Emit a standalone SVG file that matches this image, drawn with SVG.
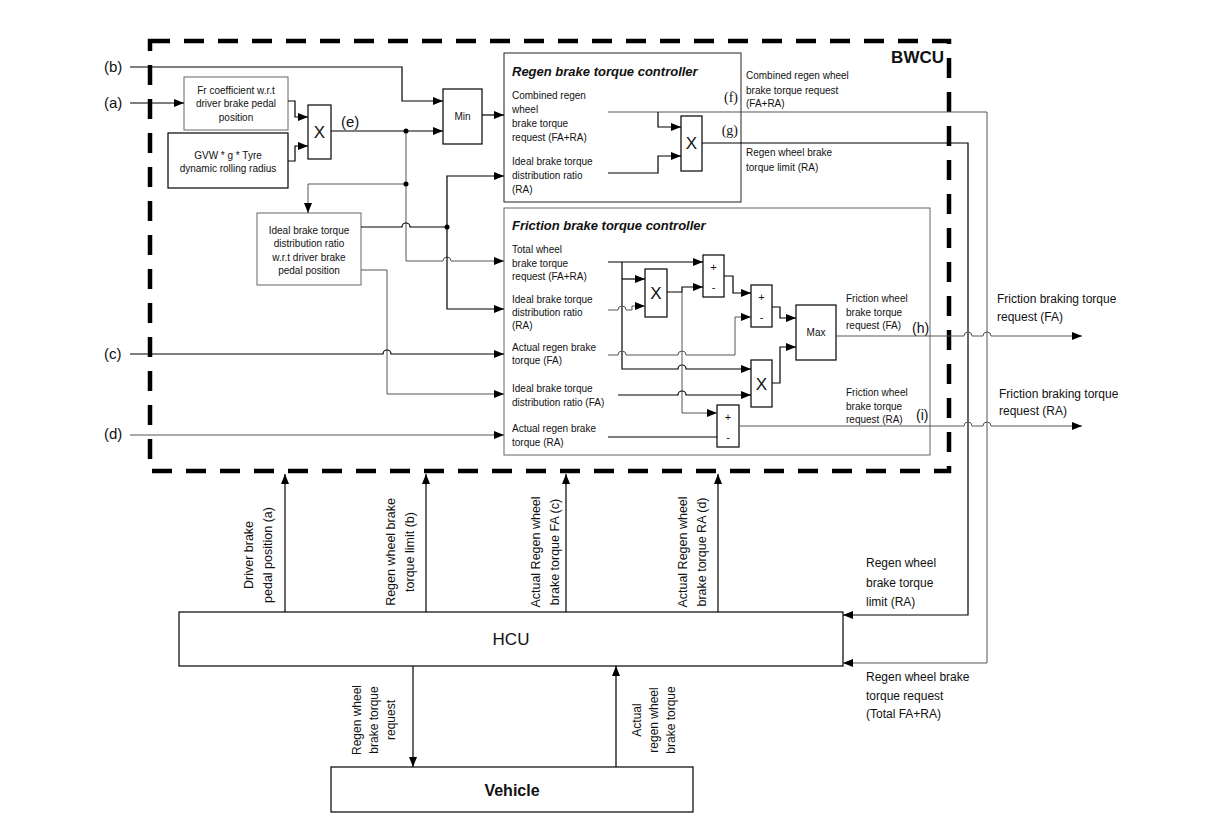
<svg xmlns="http://www.w3.org/2000/svg" width="1221" height="826" viewBox="0 0 1221 826">
<defs>
<marker id="ar" markerUnits="userSpaceOnUse" markerWidth="10" markerHeight="8" refX="10" refY="4" orient="auto">
<path d="M0,0 L10,4 L0,8 z" fill="#000"/>
</marker>
<style>
text{font-family:"Liberation Sans",Arial,sans-serif;fill:#111}
.s{font-size:10px}
.m{font-size:12px}
.v{font-size:12.5px}
.lbl{font-size:15px}
.c{text-anchor:middle}
.bx{fill:#fff;stroke:#000;stroke-width:1.2}
.gb{fill:#fff;stroke:#666;stroke-width:1}
.ti{font-size:13px;font-weight:bold;font-style:italic}
.op{font-size:17px;text-anchor:middle}
.pm{font-size:11px;text-anchor:middle}
.k{fill:none;stroke:#000;stroke-width:1.2}
.g{fill:none;stroke:#555;stroke-width:1}
.a{marker-end:url(#ar)}
</style>
</defs>
<rect width="1221" height="826" fill="#fff"/>

<g id="bwcu">
<rect x="150" y="41" width="799" height="430" fill="none" stroke="#000" stroke-width="4.5" stroke-dasharray="20 14"/>
<text x="944" y="63" style="font-size:17px;font-weight:bold;text-anchor:end">BWCU</text>
</g>

<g id="inputs">
<text class="lbl" x="104" y="72">(b)</text>
<text class="lbl" x="104" y="108">(a)</text>
<text class="lbl" x="104" y="359">(c)</text>
<text class="lbl" x="104" y="439">(d)</text>
<text class="lbl" x="341" y="127">(e)</text>
</g>

<g id="fr-coeff">
<rect class="gb" x="184" y="77" width="104" height="53"/>
<text class="s c" x="236" y="94">Fr coefficient w.r.t</text>
<text class="s c" x="236" y="107">driver brake pedal</text>
<text class="s c" x="236" y="121">position</text>
</g>
<g id="gvw">
<rect class="bx" x="168" y="133" width="120" height="55"/>
<text class="s c" x="228" y="159">GVW * g * Tyre</text>
<text class="s c" x="228" y="172">dynamic rolling radius</text>
</g>
<g id="mul1">
<rect class="bx" x="308" y="105" width="23" height="54"/>
<text class="op" x="319.5" y="138">X</text>
</g>
<g id="min">
<rect class="bx" x="443" y="89" width="39" height="55"/>
<text class="s c" x="462.5" y="120">Min</text>
</g>
<g id="ideal-ratio">
<rect class="gb" x="257" y="213" width="104" height="72"/>
<text class="s c" x="309" y="234">Ideal brake torque</text>
<text class="s c" x="309" y="247">distribution ratio</text>
<text class="s c" x="309" y="261">w.r.t driver brake</text>
<text class="s c" x="309" y="274">pedal position</text>
</g>

<g id="regen-controller">
<rect x="504" y="53" width="237" height="149" fill="#fff" stroke="#222" stroke-width="1"/>
<text class="ti" x="512" y="76">Regen brake torque controller</text>
<text class="s" x="512" y="99">Combined regen</text>
<text class="s" x="512" y="113">wheel</text>
<text class="s" x="512" y="127">brake torque</text>
<text class="s" x="512" y="141">request (FA+RA)</text>
<text class="s" x="512" y="165">Ideal brake torque</text>
<text class="s" x="512" y="179">distribution ratio</text>
<text class="s" x="512" y="193">(RA)</text>
<text x="738" y="102" style="font-size:14px;text-anchor:end;font-family:'Liberation Serif',serif">(f)</text>
<text x="738" y="135" style="font-size:14px;text-anchor:end;font-family:'Liberation Serif',serif">(g)</text>
</g>
<g id="mul2">
<rect class="bx" x="681" y="116" width="21" height="55"/>
<text class="op" x="691.5" y="149">X</text>
</g>
<g id="regen-out-labels">
<text class="s" x="746" y="79">Combined regen wheel</text>
<text class="s" x="746" y="94">brake torque request</text>
<text class="s" x="746" y="107">(FA+RA)</text>
<text class="s" x="746" y="156">Regen wheel brake</text>
<text class="s" x="746" y="171">torque limit (RA)</text>
</g>

<g id="friction-controller">
<rect class="gb" x="504" y="208" width="426" height="247"/>
<text class="ti" x="512" y="230">Friction brake torque controller</text>
<text class="s" x="512" y="253">Total wheel</text>
<text class="s" x="512" y="267">brake torque</text>
<text class="s" x="512" y="280">request (FA+RA)</text>
<text class="s" x="512" y="303">Ideal brake torque</text>
<text class="s" x="512" y="316">distribution ratio</text>
<text class="s" x="512" y="329">(RA)</text>
<text class="s" x="512" y="351">Actual regen brake</text>
<text class="s" x="512" y="364">torque (FA)</text>
<text class="s" x="512" y="392">Ideal brake torque</text>
<text class="s" x="512" y="406">distribution ratio (FA)</text>
<text class="s" x="512" y="432">Actual regen brake</text>
<text class="s" x="512" y="446">torque (RA)</text>
<text class="s" x="846" y="302">Friction wheel</text>
<text class="s" x="846" y="316">brake torque</text>
<text class="s" x="846" y="329">request (FA)</text>
<text x="912" y="333" style="font-size:14px">(h)</text>
<text class="s" x="846" y="396">Friction wheel</text>
<text class="s" x="846" y="410">brake torque</text>
<text class="s" x="846" y="423">request (RA)</text>
<text x="916" y="420" style="font-size:14px">(i)</text>
</g>
<g id="sub1">
<rect class="bx" x="703" y="255" width="21" height="42"/>
<text class="pm" x="713.5" y="271">+</text>
<text class="pm" x="713.5" y="291">-</text>
</g>
<g id="mul3">
<rect class="bx" x="645" y="269" width="22" height="48"/>
<text class="op" x="656" y="299">X</text>
</g>
<g id="sub2">
<rect class="bx" x="751" y="285" width="21" height="42"/>
<text class="pm" x="761.5" y="301">+</text>
<text class="pm" x="761.5" y="321">-</text>
</g>
<g id="mul4">
<rect class="bx" x="751" y="360" width="21" height="47"/>
<text class="op" x="761.5" y="390">X</text>
</g>
<g id="max">
<rect class="bx" x="796" y="305" width="40" height="55"/>
<text class="s c" x="816" y="336">Max</text>
</g>
<g id="sub3">
<rect class="bx" x="717" y="405" width="22" height="42"/>
<text class="pm" x="728" y="421">+</text>
<text class="pm" x="728" y="441">-</text>
</g>

<g id="outputs">
<text class="m" x="997" y="303">Friction braking torque</text>
<text class="m" x="997" y="321">request (FA)</text>
<text class="m" x="999" y="398">Friction braking torque</text>
<text class="m" x="999" y="415">request (RA)</text>
</g>

<g id="hcu">
<rect class="bx" x="179" y="612" width="664" height="54"/>
<text x="511" y="645" style="font-size:17px;text-anchor:middle">HCU</text>
</g>
<g id="vehicle">
<rect class="bx" x="331" y="767" width="362" height="45"/>
<text x="512" y="796" style="font-size:16px;font-weight:bold;text-anchor:middle">Vehicle</text>
</g>

<g id="signal-labels">
<g transform="translate(253,555) rotate(-90)"><text class="v c" x="0" y="0">Driver brake</text><text class="v c" x="0" y="19">pedal position (a)</text></g>
<g transform="translate(395,552) rotate(-90)"><text class="v c" x="0" y="0">Regen wheel brake</text><text class="v c" x="0" y="19">torque limit (b)</text></g>
<g transform="translate(540,552) rotate(-90)"><text class="v c" x="0" y="0">Actual Regen wheel</text><text class="v c" x="0" y="19">brake torque FA (c)</text></g>
<g transform="translate(687,552) rotate(-90)"><text class="v c" x="0" y="0">Actual Regen wheel</text><text class="v c" x="0" y="19">brake torque RA (d)</text></g>
<g transform="translate(361,720) rotate(-90)"><text class="m c" x="0" y="0">Regen wheel</text><text class="m c" x="0" y="17">brake torque</text><text class="m c" x="0" y="34">request</text></g>
<g transform="translate(641,720) rotate(-90)"><text class="m c" x="0" y="0">Actual</text><text class="m c" x="0" y="17">regen wheel</text><text class="m c" x="0" y="34">brake torque</text></g>
<text class="m" x="866" y="567">Regen wheel</text>
<text class="m" x="866" y="587">brake torque</text>
<text class="m" x="866" y="606">limit (RA)</text>
<text class="m" x="866" y="681">Regen wheel brake</text>
<text class="m" x="866" y="700">torque request</text>
<text class="m" x="866" y="718">(Total FA+RA)</text>
</g>

<g id="connectors">
<path class="k a" d="M130,67 H402 V101 H443"/>
<path class="k a" d="M130,103 H184"/>
<path class="k a" d="M288,101 H295 V117 H308"/>
<path class="k a" d="M288,161 H295 V146 H308"/>
<path class="k a" d="M331,131 H443"/>
<path class="k a" d="M482,115 H504"/>
<path class="g a" d="M406,131 V261 H443 A4,4 0 0 1 451,261 H504"/>
<path class="g a" d="M406,184 H308 V213"/>
<path class="k" d="M361,227 H402 A4,4 0 0 1 410,227 H447"/>
<path class="k a" d="M447,227 V176 H504"/>
<path class="k a" d="M447,227 V309 H504"/>
<path class="g a" d="M361,270 H387 V394 H504"/>
<path class="k a" d="M130,354 H383 A4,4 0 0 1 391,354 H504"/>
<path class="g a" d="M130,435 H504"/>
<path class="g a" d="M608,112 H987 V663 H843"/>
<path class="k a" d="M658,112 V127 H681"/>
<path class="k a" d="M608,173 H658 V156 H681"/>
<path class="k a" d="M702,143 H968 V615 H843"/>
<path class="k a" d="M608,262 H703"/>
<path class="k a" d="M622,262 V369 H678 A4,4 0 0 1 686,369 H751"/>
<path class="k a" d="M622,279 H645"/>
<path class="g a" d="M608,310 H618 A4,4 0 0 1 626,310 H632 V306 H645"/>
<path class="k a" d="M667,292 H682 V287 H703"/>
<path class="g a" d="M682,292 V413 H717"/>
<path class="k a" d="M724,276 H733 V293 H751"/>
<path class="g a" d="M608,355 H618 A4,4 0 0 1 626,355 H678 A4,4 0 0 1 686,355 H735 V317 H751"/>
<path class="k a" d="M772,307 H780 V318 H796"/>
<path class="k a" d="M618,395 H678 A4,4 0 0 1 686,395 H751"/>
<path class="k a" d="M772,383 H780 V347 H796"/>
<path class="g a" d="M836,336 H964 A4,4 0 0 1 972,336 H983 A4,4 0 0 1 991,336 H1082"/>
<path class="k" d="M608,437 H717"/>
<path class="g a" d="M739,426 H964 A4,4 0 0 1 972,426 H983 A4,4 0 0 1 991,426 H1082"/>
<path class="k a" d="M285,612 V474"/>
<path class="k a" d="M426,612 V474"/>
<path class="k a" d="M566,612 V474"/>
<path class="k a" d="M718,612 V474"/>
<path class="k a" d="M413,666 V767"/>
<path class="k a" d="M616,767 V666"/>
<circle cx="406" cy="131" r="2.5" fill="#000"/>
<circle cx="406" cy="184" r="2.5" fill="#000"/>
<circle cx="447" cy="227" r="2.5" fill="#000"/>
</g>
</svg>
